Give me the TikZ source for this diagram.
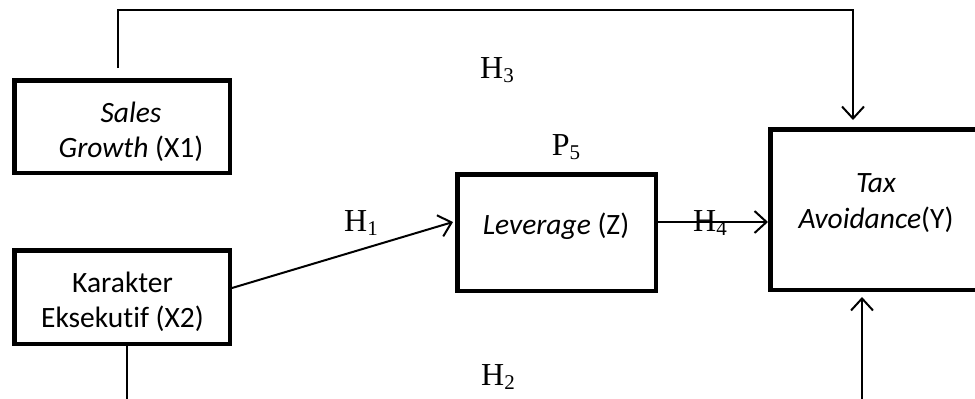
\documentclass[tikz,border=0pt]{standalone}
\usepackage{fontspec}
\setmainfont{Carlito}[Ligatures=NoCommon]
\newfontfamily\timesf{Liberation Serif}
\usetikzlibrary{arrows.meta,calc}
\newcommand\hyplab[2]{#1\raisebox{-4pt}{\fontsize{21}{21}\selectfont #2}}
\begin{document}
\begin{tikzpicture}[x=1pt,y={(0pt,-1pt)},
  box/.style={draw,line width=4.5pt,rectangle,inner sep=0pt},
  boxtext/.style={font=\fontsize{29.5}{35.5}\selectfont,align=center,inner sep=0pt},
  hyp/.style={font=\timesf\fontsize{32}{32}\selectfont,inner sep=0pt},
  conn/.style={line width=2pt},
  thinconn/.style={line width=1.5pt},
  tip/.style={-{Straight Barb[length=12pt,width=22pt,line width=2pt]}}]
\useasboundingbox (0,0) rectangle (975,399);
% boxes
\node[box,minimum width=215.5pt,minimum height=92.5pt] (X1) at (122,126.5) {};
\node[box,minimum width=215.5pt,minimum height=93.5pt] (X2) at (122,297) {};
\node[box,minimum width=198.5pt,minimum height=116.5pt] (Z) at (556.5,232.5) {};
\node[box,minimum width=211.5pt,minimum height=160.5pt] (Y) at (876,209.5) {};
% box texts
\node[boxtext] (X1t) at (131,132) {\textit{Sales}\\\textit{Growth} (X1)};
\node[boxtext] (X2t) at (122.5,302) {Karakter\\Eksekutif (X2)};
\node[boxtext] (Zt) at (556,226) {\textit{Leverage} (Z)};
\node[boxtext] (Yt) at (876,203) {\textit{Tax}\\\textit{Avoidance}(Y)};
% labels
\node[hyp] (P5) at (566,147) {\hyplab{P}{5}};
\node[hyp] (H3) at (497,70) {\hyplab{H}{3}};
\node[hyp] (H1) at (361,223) {\hyplab{H}{1}};
\node[hyp] (H2) at (498,377) {\hyplab{H}{2}};
% connector coordinates
\coordinate (a0) at (118,68);
\coordinate (a1) at (853,120);
\coordinate (b0) at ($(X2.east)+(0,-9)$);
\coordinate (b1) at ($(Z.west)+(-2,-10.5)$);
\coordinate (c0) at ($(Z.east)+(0,-10.5)$);
\coordinate (c1) at (Y.west |- c0);
\coordinate (d0) at (127,402);
\coordinate (e0) at (862,402);
\coordinate (e1) at (862,297);
% connectors
\draw[thinconn,tip] (a0) -- (118,10) -| (a1);
\draw[conn,tip] (b0) -- (b1);
\draw[conn,tip] (c0) -- (c1);
\draw[thinconn] (X2.south -| d0) -- (d0);
\draw[conn,tip] (e0) -- (e1);
\node[hyp] (H4) at (710,223) {\hyplab{H}{4}};
\end{tikzpicture}
\end{document}
